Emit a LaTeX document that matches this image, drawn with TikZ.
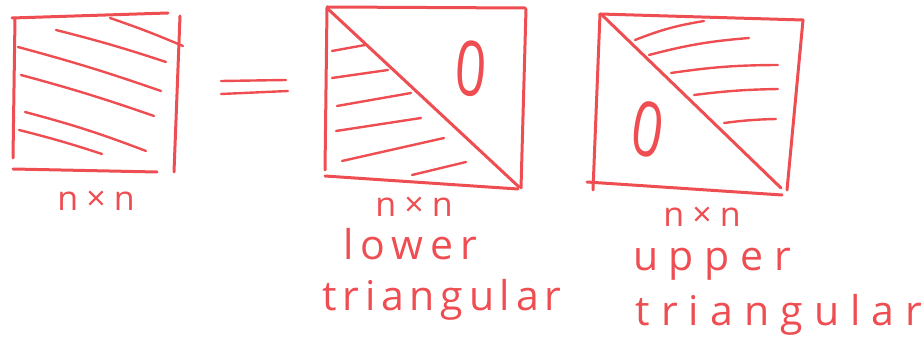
\documentclass[tikz,border=0pt]{standalone}
\usepackage{fontspec}
\setmainfont{Open Sans}
\definecolor{hand}{RGB}{238,78,82}
\tikzset{
  frame/.style={draw=hand, line width=3pt, line cap=round, line join=round},
  hatch/.style={draw=hand, line width=2.4pt, line cap=round},
  lbl/.style={text=hand, inner sep=0pt, font=\fontsize{41}{41}\selectfont\addfontfeature{LetterSpace=#1}},
  lbl/.default=15,
  dim/.style={text=hand, inner sep=0pt, font=\fontsize{34}{34}\selectfont\addfontfeature{LetterSpace=24}},
  zero/.style={text=hand, inner sep=0pt, font=\fontsize{76}{76}\selectfont, xscale=0.72}
}
\begin{document}
\begin{tikzpicture}[x=1pt,y=-1pt]
\useasboundingbox (0,0) rectangle (923,347);
% ---- box 1: full matrix
\draw[frame] (12,18) -- (168,13);
\draw[frame] (15,18) -- (13,158);
\draw[frame] (180,16) -- (174,172);
\draw[frame] (13,169) -- (157,172);
\draw[hatch] (110,18) to[bend left=2] (183,46);
\draw[hatch] (56,30) to[bend left=2] (166,62);
\draw[hatch] (18,47) to[bend left=2] (161,91);
\draw[hatch] (21,75) to[bend left=2] (154,116);
\draw[hatch] (25,112) to[bend left=3] (146,151);
\draw[hatch] (19,130) to[bend left=2] (102,154);
\node[dim] (l1) at (96,201) {n×n};
% ---- equals sign
\draw[hatch] (221,81) -- (286,80);
\draw[hatch] (221,94) -- (288,91);
% ---- box 2: lower triangular
\draw[frame] (327,7) -- (525,8);
\draw[frame] (327,8) -- (325,170);
\draw[frame] (526,9) -- (521,188);
\draw[frame] (325,176) -- (518,189);
\draw[frame] (328,9) -- (519,187);
\draw[hatch] (332,51) -- (365,45);
\draw[hatch] (332,78) -- (388,70);
\draw[hatch] (337,106) -- (411,93);
\draw[hatch] (336,131) -- (421,118);
\draw[hatch] (342,161) -- (444,138);
\draw[hatch] (412,175) -- (466,162);
\node[zero, rotate=-6] (z2) at (471,69) {0};
\node[dim] (l2a) at (414,207) {n×n};
\node[lbl=17] (l2b) at (410,244) {lower};
\node[lbl=14] (l2c) at (442,300) {triangular};
% ---- box 3: upper triangular
\draw[frame] (600,14) -- (803,20);
\draw[frame] (600,14) -- (593,190);
\draw[frame] (803,20) -- (787,190);
\draw[frame] (587,182) -- (782,195);
\draw[frame] (602,15) -- (781,188);
\draw[hatch] (635,40) to[bend left=6] (704,21);
\draw[hatch] (649,55) to[bend left=5] (749,38);
\draw[hatch] (671,73) to[bend left=4] (778,65);
\draw[hatch] (694,95) to[bend left=3] (778,89);
\draw[hatch] (724,123) to[bend left=3] (776,119);
\node[zero, rotate=-12] (z3) at (648,129) {0};
\node[dim] (l3a) at (702,217) {n×n};
\node[lbl=26] (l3b) at (712,264) {upper};
\node[lbl=27] (l3c) at (779,315) {triangular};
\end{tikzpicture}
\end{document}
